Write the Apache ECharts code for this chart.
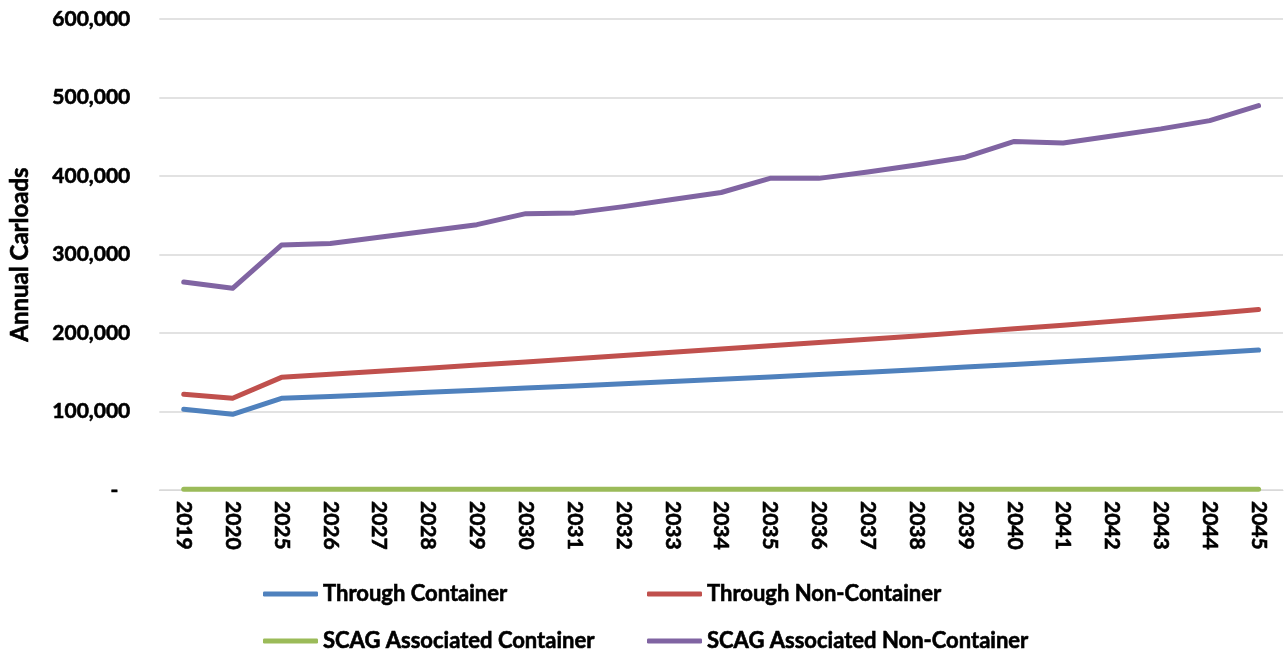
<!DOCTYPE html>
<html>
<head>
<meta charset="utf-8">
<title>Annual Carloads</title>
<script src="https://cdn.jsdelivr.net/npm/echarts@6/dist/echarts.min.js"></script>
<style>
  html, body { margin: 0; padding: 0; background: #ffffff; }
  #chart { width: 1286px; height: 650px; }
</style>
</head>
<body>
<div id="chart"></div>
<script>
// Forecast years (2021-2024 not reported)
const years = ['2019', '2020', '2025', '2026', '2027', '2028', '2029', '2030', '2031', '2032',
  '2033', '2034', '2035', '2036', '2037', '2038', '2039', '2040', '2041', '2042', '2043', '2044', '2045'];

// Annual carloads by segment
const throughContainer = [102800, 96400, 116800, 119200, 121800, 124400, 127000, 129800, 132600, 135400,
  138300, 141200, 144100, 147000, 150000, 153300, 156600, 160000, 163400, 167000, 170600, 174400, 178300];
const throughNonContainer = [121900, 116800, 143500, 147400, 151300, 155200, 159100, 163200, 167300, 171400,
  175500, 179600, 183700, 187900, 192100, 196300, 200800, 205400, 210000, 214800, 219600, 224600, 230000];
const scagContainer = [1000, 1000, 1000, 1000, 1000, 1000, 1000, 1000, 1000, 1000,
  1000, 1000, 1000, 1000, 1000, 1000, 1000, 1000, 1000, 1000, 1000, 1000, 1000];
const scagNonContainer = [265000, 257000, 312000, 314000, 322000, 330000, 338000, 352000, 353000, 361000,
  370000, 379000, 397000, 397000, 405000, 414000, 424000, 444000, 442000, 451000, 460000, 470500, 489600];

const seriesNames = ['Through Container', 'Through Non-Container', 'SCAG Associated Container', 'SCAG Associated Non-Container'];
const seriesColors = ['#4F81BD', '#C0504D', '#9BBB59', '#8064A2'];
const seriesValues = [throughContainer, throughNonContainer, scagContainer, scagNonContainer];

const FONT = 'Lato';
// heavy bold text: bold face plus a thin stroke in the same colour
const heavy = { fontFamily: FONT, fontWeight: 'bold', color: '#000000', textBorderColor: '#000000', textBorderWidth: 0.6 };

const chart = echarts.init(document.getElementById('chart'), null, { renderer: 'canvas' });

const legendPos = [
  { left: 263, top: 582 },
  { left: 647, top: 582 },
  { left: 263, top: 629 },
  { left: 647, top: 629 }
];

chart.setOption({
  animation: false,
  backgroundColor: '#ffffff',
  grid: { left: 155, right: 3, top: 19, bottom: 160, containLabel: false },
  legend: seriesNames.map((name, i) => ({
    data: [name],
    left: legendPos[i].left,
    top: legendPos[i].top,
    padding: 0,
    icon: 'roundRect',
    itemWidth: 55,
    itemHeight: 5,
    selectedMode: false,
    textStyle: Object.assign({}, heavy, { fontSize: 22, lineHeight: 24 })
  })),
  xAxis: {
    type: 'category',
    data: years,
    boundaryGap: true,
    axisLine: { show: true, lineStyle: { color: '#D9D9D9', width: 1 } },
    axisTick: { show: false },
    axisLabel: Object.assign({}, heavy, {
      rotate: -90,
      margin: 11,
      interval: 0,
      fontSize: 21
    }),
    splitLine: { show: false }
  },
  yAxis: {
    type: 'value',
    min: 0,
    max: 600000,
    interval: 100000,
    name: 'Annual Carloads',
    nameLocation: 'middle',
    nameGap: 127,
    nameTextStyle: Object.assign({}, heavy, { fontSize: 24 }),
    axisLine: { show: false },
    axisTick: { show: false },
    axisLabel: Object.assign({}, heavy, {
      margin: 29,
      fontSize: 21,
      formatter: function (v) {
        if (v === 0) return '{dash|-}';
        return v.toLocaleString('en-US');
      },
      rich: {
        dash: Object.assign({}, heavy, { fontSize: 21, padding: [0, 12, 0, 0] })
      }
    }),
    splitLine: { show: true, lineStyle: { color: '#D9D9D9', width: 1.5 } }
  },
  series: seriesNames.map((name, i) => ({
    name: name,
    type: 'line',
    data: seriesValues[i],
    symbol: 'none',
    smooth: false,
    color: seriesColors[i],
    lineStyle: { color: seriesColors[i], width: 5, cap: 'round', join: 'round' },
    z: i === 2 ? 3 : 2
  }))
});
</script>
</body>
</html>
